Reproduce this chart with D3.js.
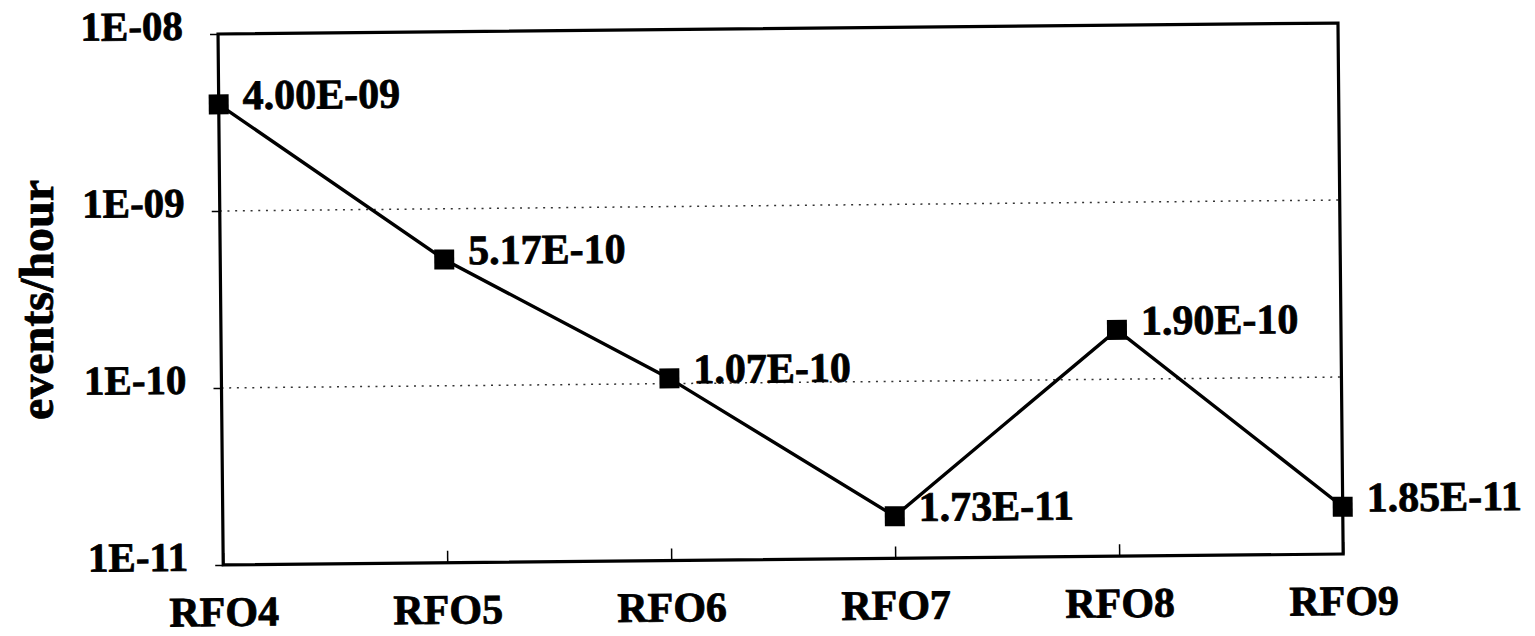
<!DOCTYPE html>
<html>
<head>
<meta charset="utf-8">
<script src="https://cdn.jsdelivr.net/npm/d3@7"></script>
<style>
  html, body { margin: 0; padding: 0; background: #fff; }
  svg { display: block; }
  text { font-family: "Liberation Serif", "Times New Roman", "DejaVu Serif", serif; font-weight: bold; fill: #000; stroke: #000; stroke-width: 0.8px; }
</style>
</head>
<body>
<svg id="chart" width="1535" height="636"></svg>
<script>
// ---- data ----
const categories = ["RFO4", "RFO5", "RFO6", "RFO7", "RFO8", "RFO9"];
const values = [4.00e-9, 5.17e-10, 1.07e-10, 1.73e-11, 1.90e-10, 1.85e-11];
const valueLabels = ["4.00E-09", "5.17E-10", "1.07E-10", "1.73E-11", "1.90E-10", "1.85E-11"];
const yTickValues = [1e-11, 1e-10, 1e-9, 1e-8];
const yTickLabels = ["1E-11", "1E-10", "1E-09", "1E-08"];
const gridValues = [1e-10, 1e-9];
const yTitle = "events/hour";

// ---- layout ----
const W = 1535, H = 636;
const plotL = 220.6, plotR = 1340.6, plotT = 28.5, plotB = 559.5;
const svg = d3.select("#chart");
svg.append("rect").attr("width", W).attr("height", H).attr("fill", "#fff");

// the scanned original is tilted slightly
const g = svg.append("g").attr("transform", "rotate(-0.56, 780.6, 294)");

const x = d3.scalePoint().domain(categories).range([plotL, plotR]);
const y = d3.scaleLog().domain([1e-11, 1e-8]).range([plotB, plotT]);

// gridlines
g.selectAll("line.grid").data(gridValues).enter().append("line")
  .attr("class", "grid")
  .attr("x1", plotL).attr("x2", plotR)
  .attr("y1", d => y(d)).attr("y2", d => y(d))
  .attr("stroke", "#333").attr("stroke-width", 1.5)
  .attr("stroke-dasharray", "2,5.7");

// y axis
const yAxis = g.append("g").attr("transform", `translate(${plotL},0)`)
  .call(d3.axisLeft(y).tickValues(yTickValues)
    .tickFormat(d => yTickLabels[yTickValues.indexOf(d)])
    .tickSize(8).tickPadding(27));
yAxis.select(".domain").remove();
yAxis.selectAll(".tick line").attr("stroke", "#000").attr("stroke-width", 1.5);
yAxis.selectAll(".tick text").attr("font-size", 41).attr("dy", 5)
  .style("font-family", "'Liberation Serif', 'Times New Roman', serif").style("font-weight", "bold");

// x axis
const xAxis = g.append("g").attr("transform", `translate(0,${plotB})`)
  .call(d3.axisBottom(x).tickSizeInner(-12).tickSizeOuter(0).tickPadding(0));
xAxis.select(".domain").remove();
xAxis.selectAll(".tick line").attr("stroke", "#000").attr("stroke-width", 1.5);
xAxis.selectAll(".tick text").attr("font-size", 42).attr("y", 61).attr("dy", 0)
  .style("font-family", "'Liberation Serif', 'Times New Roman', serif").style("font-weight", "bold");

// plot border
g.append("rect").attr("x", plotL).attr("y", plotT)
  .attr("width", plotR - plotL).attr("height", plotB - plotT)
  .attr("fill", "none").attr("stroke", "#000").attr("stroke-width", 3.2);

// series line
const pts = categories.map((c, i) => ({ c, v: values[i], label: valueLabels[i] }));
g.append("path").datum(pts)
  .attr("fill", "none").attr("stroke", "#000").attr("stroke-width", 3.4)
  .attr("d", d3.line().x(d => x(d.c)).y(d => y(d.v)));

// markers
const ms = 20;
g.selectAll("rect.marker").data(pts).enter().append("rect")
  .attr("class", "marker")
  .attr("x", d => x(d.c) - ms / 2).attr("y", d => y(d.v) - ms / 2)
  .attr("width", ms).attr("height", ms).attr("fill", "#000");

// value labels
g.selectAll("text.vlabel").data(pts).enter().append("text")
  .attr("class", "vlabel")
  .attr("x", d => x(d.c) + 24).attr("y", d => y(d.v) + 5)
  .attr("font-size", 42)
  .text(d => d.label);

// y title
svg.append("text")
  .attr("transform", "translate(53,300) rotate(-90)")
  .attr("text-anchor", "middle")
  .attr("font-size", 48)
  .text(yTitle);
</script>
</body>
</html>
